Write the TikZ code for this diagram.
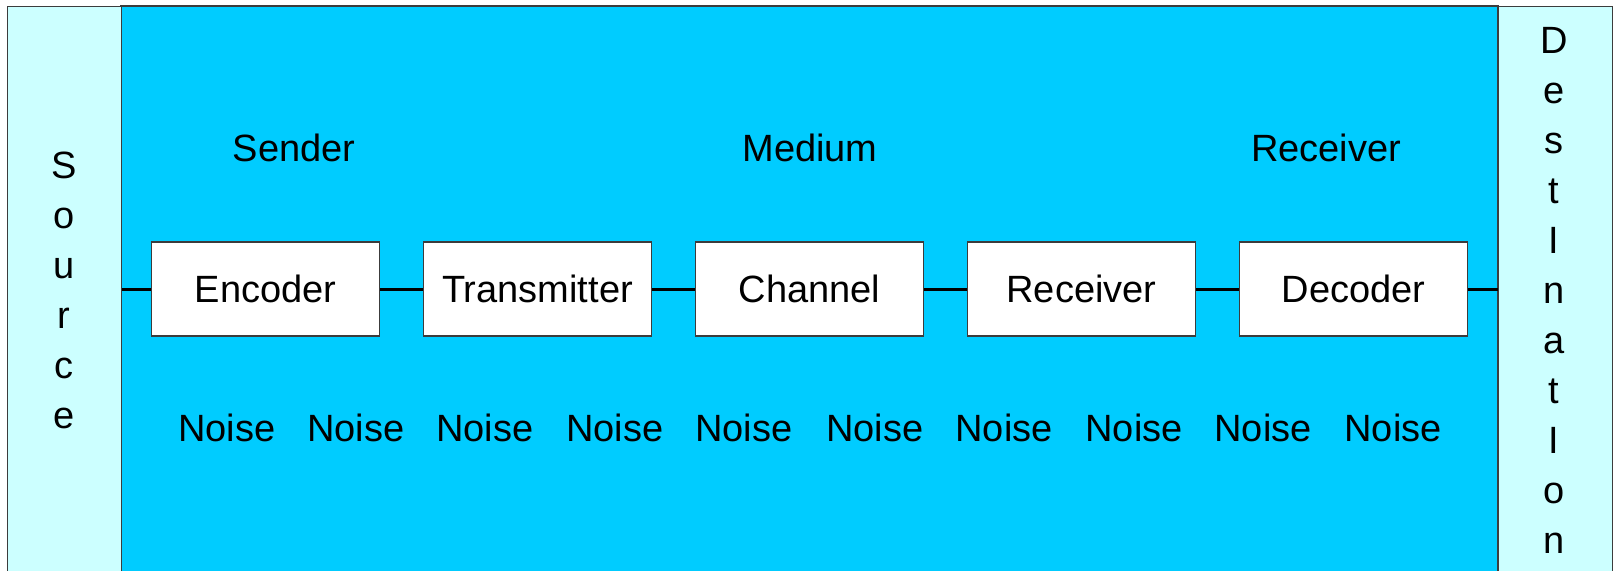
\documentclass[tikz,border=0pt]{standalone}
\usepackage{fontspec}
\setmainfont{Liberation Sans}
\definecolor{mediumblue}{HTML}{00CCFF}
\definecolor{palecyan}{HTML}{CCFFFF}
\definecolor{edgegray}{HTML}{3C3C3C}
\tikzset{
  panel/.style={draw=edgegray, line width=1.2pt, fill=palecyan, anchor=north west,
    minimum width=114pt, minimum height=600pt, inner sep=0pt},
  stage/.style={draw=edgegray, line width=1.2pt, fill=white, minimum width=228pt,
    minimum height=94pt, inner sep=0pt, font=\fontsize{38}{45}\selectfont},
  wire/.style={line width=3pt, black},
  label/.style={inner sep=0pt, font=\fontsize{38}{45}\selectfont},
  vertical/.style={inner sep=0pt, align=center, font=\fontsize{38}{50}\selectfont}
}
\begin{document}
\begin{tikzpicture}[x=1pt,y=-1pt]
\useasboundingbox (0,0) rectangle (1619,570);
\clip (0,0) rectangle (1619,570);
% middle region
\filldraw[fill=mediumblue, draw=edgegray, line width=1.2pt] (121,6) rectangle (1498,600);
% side panels
\node[panel] (src) at (7,6) {};
\node[panel] (dst) at (1498,6) {};
\node[vertical] (srctext) at (64,290) {S\\o\\u\\r\\c\\e};
\node[vertical] (dsttext) at (1554,290) {D\\e\\s\\t\\I\\n\\a\\t\\I\\o\\n};
% processing stages
\node[stage] (enc) at (265.5,289) {Encoder};
\node[stage] (tx)  at (537.5,289) {Transmitter};
\node[stage] (ch)  at (809.5,289) {Channel};
\node[stage] (rx)  at (1081.5,289) {Receiver};
\node[stage] (dec) at (1353.5,289) {Decoder};
% signal path
\draw[wire] (src.east |- enc.west) -- (enc.west);
\draw[wire] (enc.east) -- (tx.west);
\draw[wire] (tx.east) -- (ch.west);
\draw[wire] (ch.east) -- (rx.west);
\draw[wire] (rx.east) -- (dec.west);
\draw[wire] (dec.east) -- (dst.west |- dec.east);
% section headings
\node[label] (sender) at (294,148) {Sender};
\node[label] (medium) at (810,148) {Medium};
\node[label] (receiver) at (1326,148) {Receiver};
% noise sources
\foreach \x [count=\i] in {227,356,485,615,744,875,1004,1134,1263,1393}
  \node[label] (noise\i) at (\x,428) {Noise};
\end{tikzpicture}
\end{document}
